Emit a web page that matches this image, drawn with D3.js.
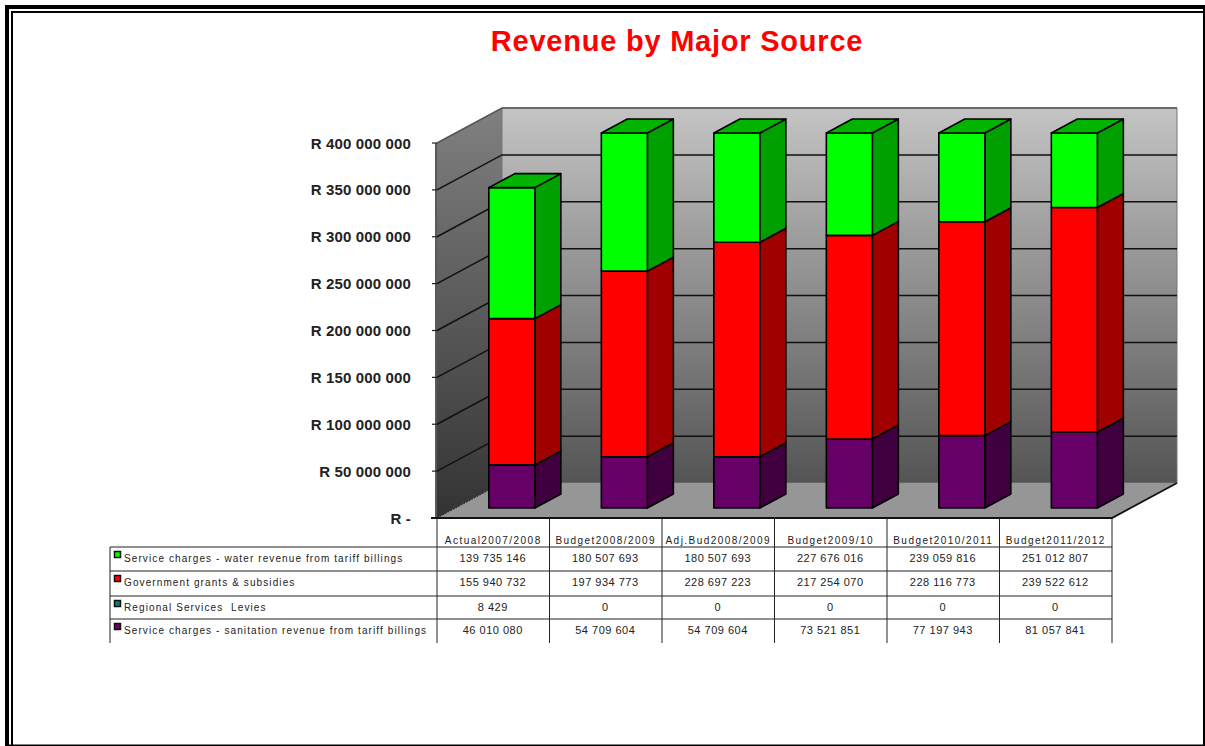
<!DOCTYPE html>
<html><head><meta charset="utf-8">
<script src="https://cdn.jsdelivr.net/npm/d3@7"></script>
<style>html,body{margin:0;padding:0;background:#fff}svg{display:block}</style>
</head><body><svg id="c" width="1205" height="746"></svg>
<script>
const title = "Revenue by Major Source";
const categories = ["Actual2007/2008","Budget2008/2009","Adj.Bud2008/2009","Budget2009/10","Budget2010/2011","Budget2011/2012"];
const water = [139735146,180507693,180507693,227676016,239059816,251012807];
const grants = [155940732,197934773,228697223,217254070,228116773,239522612];
const levies = [8429,0,0,0,0,0];
const sanitation = [46010080,54709604,54709604,73521851,77197943,81057841];
const waterLabels = ["139 735 146","180 507 693","180 507 693","227 676 016","239 059 816","251 012 807"];
const grantLabels = ["155 940 732","197 934 773","228 697 223","217 254 070","228 116 773","239 522 612"];
const levyLabels = ["8 429","0","0","0","0","0"];
const sanitationLabels = ["46 010 080","54 709 604","54 709 604","73 521 851","77 197 943","81 057 841"];
const tickValues = [0,50e6,100e6,150e6,200e6,250e6,300e6,350e6,400e6];
const tickLabels = ["R -","R 50 000 000","R 100 000 000","R 150 000 000","R 200 000 000","R 250 000 000","R 300 000 000","R 350 000 000","R 400 000 000"];

const rows = [
 {name:"Service charges - water revenue from tariff billings",key:"water",vals:water,labels:waterLabels,front:"#00ff00",side:"#00a000",top:"#00b400"},
 {name:"Government grants & subsidies",key:"grants",vals:grants,labels:grantLabels,front:"#ff0000",side:"#a00000",top:"#c00000"},
 {name:"Regional Services  Levies",key:"levies",vals:levies,labels:levyLabels,front:"#008080",side:"#005050",top:"#006060"},
 {name:"Service charges - sanitation revenue from tariff billings",key:"sanitation",vals:sanitation,labels:sanitationLabels,front:"#660066",side:"#400040",top:"#500050"}
];

const svg = d3.select("#c");
const defs = svg.append("defs");
function grad(id,a,b){const g=defs.append("linearGradient").attr("id",id).attr("x1",0).attr("y1",0).attr("x2",0).attr("y2",1);
 g.append("stop").attr("offset",0).attr("stop-color",a);g.append("stop").attr("offset",1).attr("stop-color",b);}
grad("back","#c4c4c4","#545454");grad("left","#808080","#333333");

// frame: heavy rule plus thin rule on top and left, single rule on right and bottom
[[5,5,1200,4],[5,5,4,741],[11,11,1194,2],[11,11,2,735],[1203,5,2,741],[5,744.5,1200,1.5]].forEach(r=>
 svg.append("rect").attr("x",r[0]).attr("y",r[1]).attr("width",r[2]).attr("height",r[3]).attr("fill","#000"));

svg.append("text").attr("x",677).attr("y",51).attr("text-anchor","middle").attr("fill","#ff0000")
 .attr("font-family","Liberation Sans").attr("font-weight","bold").attr("font-size",29).attr("letter-spacing",0.78).text(title);

// projection
const x0=437,x1=1112,yFloor=518,yTop=143,depthX=65,depthY=35;
const x = d3.scaleBand().domain(categories).range([x0,x1]);
const y = d3.scaleLinear().domain([0,400e6]).range([yFloor,yTop]).clamp(true);
const px=(xv,v,z)=>[xv+z*depthX,y(v)-z*depthY];           // z from 0 (front) to 1 (back wall)
const poly=d3.line();
const add=(pts,fill,stroke,sw)=>svg.append("path").attr("d",poly(pts)+"Z").attr("fill",fill).attr("stroke",stroke||"none").attr("stroke-width",sw||0).attr("stroke-linejoin","round");
const vMax=400e6;

// walls
add([px(x0,0,0),px(x0,vMax,0),px(x0,vMax,1),px(x0,0,1)],"url(#left)");
add([px(x0,0,1),px(x0,vMax,1),px(x1,vMax,1),px(x1,0,1)],"url(#back)","#777",1);
add([px(x0,0,0),px(x0,0,1),px(x1,0,1),px(x1,0,0)],"#969696");

// grid
tickValues.forEach((t,i)=>{
 if(i>0 && i<tickValues.length-1){
  svg.append("path").attr("d",poly([px(x0,t,0),px(x0,t,1),px(x1,t,1)])).attr("fill","none").attr("stroke","#111").attr("stroke-width",1.5);
 }
 svg.append("line").attr("x1",x0-5).attr("x2",x0).attr("y1",y(t)).attr("y2",y(t)).attr("stroke","#222").attr("stroke-width",1.2);
 svg.append("text").attr("x",411).attr("y",y(t)+5.5).attr("text-anchor","end").attr("fill","#222")
  .attr("font-family","Liberation Sans").attr("font-weight","bold").attr("font-size",15).attr("letter-spacing",0.15).text(tickLabels[i]);
});
svg.append("path").attr("d",poly([px(x0,vMax,0),px(x0,vMax,1),px(x1,vMax,1)])).attr("fill","none").attr("stroke","#555").attr("stroke-width",1.5);
svg.append("line").attr("x1",x0-1).attr("x2",x0-1).attr("y1",yTop).attr("y2",yFloor).attr("stroke","#222").attr("stroke-width",1.5);
svg.append("path").attr("d",poly([px(x0,0,0),px(x0,0,1)])).attr("fill","none").attr("stroke","#222").attr("stroke-width",1).attr("stroke-dasharray","2 1");
svg.append("path").attr("d",poly([px(x0-6,0,0),px(x1,0,0),px(x1,0,1)])).attr("fill","none").attr("stroke","#111").attr("stroke-width",1.8);

// bars
const barW=46, zFront=0.286, zBack=0.686;
const stackOrder=[rows[3],rows[2],rows[1],rows[0]];
categories.forEach((c,i)=>{
 const bx=x(c)+(x.bandwidth()-barW)/2;
 let base=0;
 stackOrder.forEach((s,k)=>{
  const v=s.vals[i]; if(v<=0) return;
  const lo=base, hi=base+v; base=hi;
  add([px(bx+barW,lo,zFront),px(bx+barW,hi,zFront),px(bx+barW,hi,zBack),px(bx+barW,lo,zBack)],s.side,"#000",1.6);
  add([px(bx,lo,zFront),px(bx,hi,zFront),px(bx+barW,hi,zFront),px(bx+barW,lo,zFront)],s.front,"#000",1.6);
  if(k===stackOrder.length-1)
   add([px(bx,hi,zFront),px(bx,hi,zBack),px(bx+barW,hi,zBack),px(bx+barW,hi,zFront)],s.top,"#000",1.6);
 });
});

// table
const rowY=[547,571,596,619,643];
const tableLeft=110;
const tf="Liberation Sans";
const hl=(xa,xb,yy,col)=>svg.append("line").attr("x1",xa).attr("x2",xb).attr("y1",yy).attr("y2",yy).attr("stroke",col||"#222").attr("stroke-width",1);
const vl=(xx,ya,yb,col)=>svg.append("line").attr("x1",xx).attr("x2",xx).attr("y1",ya).attr("y2",yb).attr("stroke",col||"#222").attr("stroke-width",1);
rowY.slice(0,4).forEach(yy=>hl(tableLeft,x1,yy));
vl(tableLeft,rowY[0],rowY[4]);
vl(x0,yFloor,rowY[4]);
categories.forEach(c=>vl(x(c)+x.bandwidth(),yFloor,rowY[4]));
const txt=(xx,yy,s,anchor,ls,fs)=>svg.append("text").attr("x",xx).attr("y",yy).attr("text-anchor",anchor).attr("fill","#222")
 .attr("font-family",tf).attr("font-size",fs||10).attr("letter-spacing",ls).style("white-space","pre").text(s);
categories.forEach(c=>txt(x(c)+x.bandwidth()/2,544,c,"middle",1.45));
rows.forEach((r,i)=>{
 const ty=rowY[i]+14;
 svg.append("rect").attr("x",114.5).attr("y",ty-9.5).attr("width",6).attr("height",6).attr("fill",r.front).attr("stroke","#111").attr("stroke-width",1.5);
 txt(124,ty+0.5,r.name,"start",1.1);
 r.labels.forEach((l,j)=>txt(x(categories[j])+x.bandwidth()/2-0.5,ty+1,l,"middle",0.5,11));
});
</script></body></html>
